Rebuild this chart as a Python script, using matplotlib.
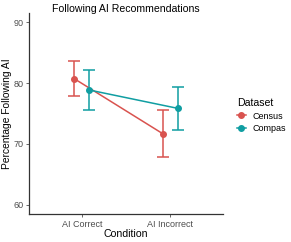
import numpy as np
import matplotlib
matplotlib.use("Agg")
import matplotlib.pyplot as plt
from matplotlib.lines import Line2D

plt.rcParams["font.family"] = ["Liberation Sans", "DejaVu Sans"]

conditions = ["AI Correct", "AI Incorrect"]
datasets = ["Census", "Compas"]
means = {"Census": [80.7, 71.7], "Compas": [78.85, 75.85]}
lower = {"Census": [77.8, 67.8], "Compas": [75.6, 72.3]}
upper = {"Census": [83.6, 75.6], "Compas": [82.1, 79.4]}
colors = {"Census": "#D9534F", "Compas": "#109EA2"}

fig = plt.figure(figsize=(2.91, 2.42), dpi=100)
ax = fig.add_axes([29 / 291, 28 / 242, 194 / 291, 201 / 242])

x = np.arange(1, len(conditions) + 1)
offsets = {"Census": -0.085, "Compas": 0.085}
handles = []
for d in datasets:
    xs = x + offsets[d]
    m = np.array(means[d])
    err = [m - np.array(lower[d]), np.array(upper[d]) - m]
    ax.errorbar(xs, m, yerr=err, color=colors[d], lw=1.1, marker="o", ms=4,
                capsize=4.3, capthick=1.1, elinewidth=1.1)
    handles.append(Line2D([], [], color=colors[d], lw=1.1, marker="o", ms=4, label=d))

ax.set_xlim(0.4, 2.6)
ax.set_ylim(58.5, 91.5)
ax.set_xticks(x)
ax.set_xticklabels(conditions)
ax.set_yticks([60, 70, 80, 90])
ax.tick_params(labelsize=6.5, colors="#4d4d4d", length=2.5, width=0.6, pad=1.5)
for s in ["top", "right"]:
    ax.spines[s].set_visible(False)
for s in ["left", "bottom"]:
    ax.spines[s].set_linewidth(0.9)
    ax.spines[s].set_color("#333333")

ax.set_xlabel("Condition", fontsize=7.6, labelpad=0)
ax.set_ylabel("Percentage Following AI", fontsize=7.4, labelpad=1)
fig.text(126 / 291, 1 - 9 / 242, "Following AI Recommendations", fontsize=7.6,
         ha="center", va="center")

leg = ax.legend(handles=handles, title="Dataset", loc="center left",
                bbox_to_anchor=(1.03, 0.49), frameon=False, fontsize=6.5,
                title_fontsize=7.6, handlelength=1.0, handletextpad=0.7,
                labelspacing=0.4)
leg._legend_box.align = "left"

fig.savefig("out.png", dpi=100)
